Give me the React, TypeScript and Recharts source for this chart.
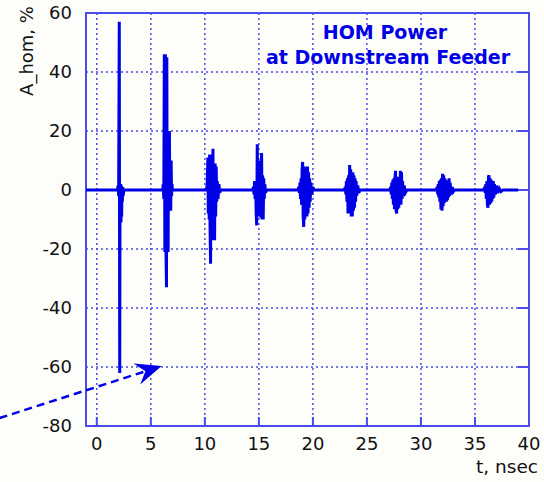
import React from "react";
import {
  LineChart,
  Line,
  XAxis,
  YAxis,
  CartesianGrid,
  ReferenceArea,
  ReferenceLine,
} from "recharts";

// [t (nsec), A_hom (%)], one list per HOM burst
const lead: [number, number][] = [[-1, 0]];
const burst1: [number, number][] = [
  [1.9, 0], [1.98, 1.5], [2.02, -2], [2.08, 57], [2.12, -62], [2.15, 2], [2.18, -11],
  [2.21, 2], [2.24, -11], [2.27, 1.5], [2.3, -9], [2.33, 1], [2.36, -4], [2.4, 1],
  [2.44, -2], [2.5, 0],
];
const burst2: [number, number][] = [
  [6.1, 0], [6.15, 2], [6.2, -3], [6.25, 46], [6.3, -21], [6.35, 46], [6.4, -20],
  [6.45, -33], [6.48, 45], [6.52, -21], [6.56, 20], [6.6, -21], [6.64, 20], [6.68, -7],
  [6.72, 20], [6.76, -7], [6.8, 10], [6.84, -7], [6.88, 10], [6.92, -2], [6.96, 2], [7.0, 0],
];
const burst3: [number, number][] = [
  [10.15, 0], [10.22, 2], [10.28, 11], [10.32, -8], [10.36, 11], [10.4, -10], [10.44, 12],
  [10.48, -12], [10.53, -25], [10.56, 12], [10.6, -14], [10.65, 11], [10.7, -17], [10.75, 14],
  [10.8, -17], [10.85, 9], [10.9, -17], [10.95, 9], [11.0, -9], [11.05, 8], [11.1, -4],
  [11.15, 3], [11.22, -3], [11.3, 2], [11.38, -1], [11.45, 0],
];
const burst4: [number, number][] = [
  [14.4, 0], [14.5, 1], [14.55, -1.5], [14.6, 3], [14.65, -3], [14.7, 3], [14.75, -8],
  [14.8, -12], [14.85, 15.5], [14.9, -9], [14.95, 10], [15.0, -9], [15.05, 9], [15.1, -9],
  [15.15, 10], [15.2, -9.5], [15.25, 12.5], [15.3, -10], [15.35, 5], [15.4, -10], [15.45, 4],
  [15.5, -3], [15.55, 2], [15.62, -1], [15.7, 0],
];
const burst5: [number, number][] = [
  [18.6, 0], [18.7, 1], [18.75, -1], [18.8, 2.5], [18.85, -3], [18.9, 4], [18.95, -5],
  [19.0, 7], [19.05, 9.5], [19.1, -9], [19.15, -12.5], [19.2, 8], [19.25, -10], [19.3, 7.5],
  [19.35, -9], [19.4, 8], [19.45, -9], [19.5, 8], [19.55, -8], [19.6, 6], [19.65, -6],
  [19.7, 4], [19.75, -4], [19.8, 2.5], [19.9, -1.5], [20.0, 1], [20.1, 0],
];
const burst6: [number, number][] = [
  [22.9, 0], [23.0, 1], [23.05, -1.5], [23.1, 3], [23.15, -4], [23.2, 4], [23.25, -8],
  [23.3, 5], [23.35, -8], [23.4, 8.5], [23.45, -8], [23.5, 7], [23.55, -9], [23.6, 6],
  [23.65, -9], [23.7, 6], [23.75, -7], [23.8, 5], [23.85, -6], [23.9, 4], [23.95, -4],
  [24.0, 3], [24.05, -2], [24.15, 1.5], [24.25, -1], [24.35, 0],
];
const burst7: [number, number][] = [
  [27.1, 0], [27.2, 1], [27.25, -1.5], [27.3, 2.5], [27.35, -3], [27.4, 3.5], [27.45, -5],
  [27.5, 4], [27.55, -6.5], [27.6, 4.5], [27.65, 6.5], [27.7, -7], [27.75, -8], [27.8, 4.5],
  [27.85, -6.5], [27.9, 4], [27.95, -6], [28.0, 4.5], [28.05, -5], [28.1, 6.5], [28.15, -5],
  [28.2, 6], [28.25, -3], [28.3, 3], [28.35, -2], [28.45, 1.5], [28.55, -1], [28.7, 0],
];
const burst8: [number, number][] = [
  [31.4, 0], [31.5, 1], [31.55, -1.5], [31.6, 2], [31.65, -2.5], [31.7, 3], [31.75, -4],
  [31.8, 3.5], [31.85, -6.5], [31.9, 4], [31.95, -7], [32.0, 5.5], [32.05, -5.5], [32.1, 5],
  [32.15, -4.5], [32.2, 4], [32.25, -4], [32.3, 3.5], [32.35, -4], [32.4, 3], [32.45, -3.5],
  [32.5, 3], [32.55, -2.5], [32.6, 4], [32.65, -2], [32.7, 2.5], [32.8, -1.5], [32.9, 1],
  [33.0, -0.5], [33.1, 0],
];
const burst9: [number, number][] = [
  [35.8, 0], [35.9, 1], [35.95, -1], [36.0, 2], [36.05, -3], [36.1, 3], [36.15, -5],
  [36.2, -6], [36.25, 4.5], [36.3, 5], [36.35, -5], [36.4, 4], [36.45, -4.5], [36.5, 3.5],
  [36.55, -4], [36.6, 3], [36.65, -3], [36.7, 3], [36.75, -2.5], [36.8, 2], [36.9, -1.5],
  [37.0, 1.5], [37.1, -1], [37.25, 0.5], [37.4, -0.5], [37.6, 0],
];
const tail: [number, number][] = [[39, 0]];

const X_TICKS = [0, 5, 10, 15, 20, 25, 30, 35, 40];
const Y_TICKS = [-80, -60, -40, -20, 0, 20, 40, 60];
const TITLE = ["HOM Power", "at Downstream Feeder"];

// dashed pointer arrow, [t, A] of its tail and tip
const ARROW = [
  { x: -9, y: -77.3 },
  { x: 6.0, y: -59.7 },
];

const data = [
  ...lead, ...burst1, ...burst2, ...burst3, ...burst4, ...burst5,
  ...burst6, ...burst7, ...burst8, ...burst9, ...tail,
].map(([t, v]) => ({ t, v }));

const BLUE = "#0000e6";
const FRAME = "#4b4be8";
const FONT = "'DejaVu Sans', Verdana, sans-serif";

const tickStyle = { fontFamily: FONT, fontSize: 18, fill: "#111" };

function ArrowShape(props: any) {
  const { x1, y1, x2, y2 } = props;
  const dx = x2 - x1;
  const dy = y2 - y1;
  const len = Math.sqrt(dx * dx + dy * dy);
  const ux = dx / len;
  const uy = dy / len;
  const px = -uy;
  const py = ux;
  const headLen = 26;
  const half = 11;
  const notch = 17;
  const bx = x2 - ux * headLen;
  const by = y2 - uy * headLen;
  const nx = x2 - ux * notch;
  const ny = y2 - uy * notch;
  const pts = [
    [x2, y2],
    [bx + px * half, by + py * half],
    [nx, ny],
    [bx - px * half, by - py * half],
  ]
    .map((p) => p.join(","))
    .join(" ");
  return (
    <g>
      <line
        x1={x1}
        y1={y1}
        x2={nx}
        y2={ny}
        stroke={BLUE}
        strokeWidth={2.5}
        strokeDasharray="8 5"
      />
      <polygon points={pts} fill={BLUE} />
    </g>
  );
}

export default function App() {
  return (
    <div
      style={{
        position: "absolute",
        left: 0,
        top: 0,
        width: 544,
        height: 482,
        background: "#fdfdfa",
      }}
    >
      <LineChart
        width={544}
        height={482}
        data={data}
        margin={{ top: 13, right: 15, bottom: 0, left: 0 }}
      >
        <CartesianGrid
          stroke={FRAME}
          strokeDasharray="2 3"
          strokeWidth={1.5}
        />
        <XAxis
          dataKey="t"
          type="number"
          domain={[-1, 40]}
          ticks={X_TICKS}
          allowDataOverflow
          height={56}
          axisLine={false}
          tickLine={false}
          tickSize={0}
          tickMargin={11}
          tick={tickStyle}
          label={{
            content: () => (
              <text
                x={538}
                y={473}
                textAnchor="end"
                fontFamily={FONT}
                fontSize={18.5}
                fill="#111"
              >
                t, nsec
              </text>
            ),
          }}
        />
        <XAxis
          xAxisId="inner"
          dataKey="t"
          type="number"
          domain={[-1, 40]}
          ticks={X_TICKS}
          allowDataOverflow
          mirror
          axisLine={false}
          tickSize={9}
          tickLine={{ stroke: FRAME, strokeWidth: 2 }}
          tickFormatter={() => ""}
        />
        <YAxis
          type="number"
          domain={[-80, 60]}
          ticks={Y_TICKS}
          allowDataOverflow
          width={86}
          axisLine={false}
          tickLine={false}
          tickSize={0}
          tickMargin={14}
          tick={tickStyle}
          label={{
            content: () => (
              <text
                x={33}
                y={51}
                transform="rotate(-90 33 51)"
                textAnchor="middle"
                fontFamily={FONT}
                fontSize={18}
                fill="#111"
              >
                A_hom, %
              </text>
            ),
          }}
        />
        <YAxis
          yAxisId="inner"
          orientation="right"
          type="number"
          domain={[-80, 60]}
          ticks={Y_TICKS}
          allowDataOverflow
          mirror
          axisLine={false}
          tickSize={11}
          tickLine={{ stroke: FRAME, strokeWidth: 2 }}
          tickFormatter={() => ""}
        />
        <ReferenceArea
          x1={-1}
          x2={40}
          y1={-80}
          y2={60}
          fill="none"
          stroke={FRAME}
          strokeWidth={2}
          fillOpacity={0}
          ifOverflow="visible"
        />
        <Line
          dataKey="v"
          type="linear"
          stroke={BLUE}
          strokeWidth={3}
          dot={false}
          isAnimationActive={false}
        />
        <ReferenceLine
          segment={ARROW}
          ifOverflow="visible"
          shape={ArrowShape}
        />
        <text
          textAnchor="middle"
          fontFamily={FONT}
          fontSize={19}
          fontWeight="bold"
          fill={BLUE}
        >
          <tspan x={385} y={39}>{TITLE[0]}</tspan>
          <tspan x={388} y={64}>{TITLE[1]}</tspan>
        </text>
      </LineChart>
    </div>
  );
}
